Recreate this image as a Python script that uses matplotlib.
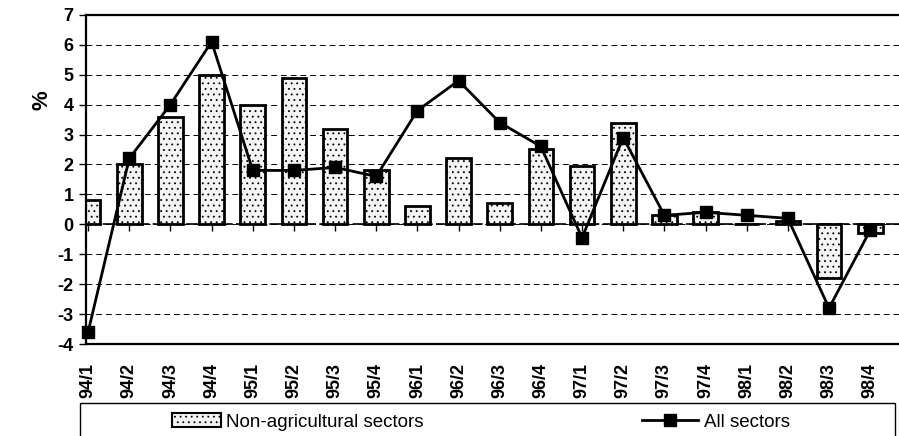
import numpy as np
import matplotlib
matplotlib.use("Agg")
import matplotlib.pyplot as plt
from matplotlib.patches import Rectangle
from matplotlib.lines import Line2D

# quarters 94/1 .. 98/4
quarters = ["94/1", "94/2", "94/3", "94/4", "95/1", "95/2", "95/3", "95/4",
            "96/1", "96/2", "96/3", "96/4", "97/1", "97/2", "97/3", "97/4",
            "98/1", "98/2", "98/3", "98/4"]
non_agri = [0.8, 2.0, 3.6, 5.0, 4.0, 4.9, 3.2, 1.8,
            0.6, 2.2, 0.7, 2.5, 1.95, 3.4, 0.3, 0.4,
            0.0, 0.1, -1.8, -0.3]
all_sectors = [-3.6, 2.2, 4.0, 6.1, 1.8, 1.8, 1.9, 1.6,
               3.8, 4.8, 3.4, 2.6, -0.45, 2.9, 0.3, 0.4,
               0.3, 0.2, -2.8, -0.2]

plt.rcParams["font.family"] = ["Liberation Sans", "DejaVu Sans"]
plt.rcParams["axes.unicode_minus"] = False
plt.rcParams["hatch.linewidth"] = 0.6
plt.rcParams["hatch.color"] = "#777777"

fig = plt.figure(figsize=(8.99, 4.36), dpi=100)
ax = fig.add_axes([0.0957, 0.211, 0.9043, 0.755])

x = np.arange(len(quarters))
ax.bar(x, non_agri, width=0.6, facecolor="#f4f4f4", edgecolor="black",
       linewidth=2, hatch="...", zorder=2)
ax.plot(x, all_sectors, color="black", linewidth=2, marker="s",
        markersize=9, markerfacecolor="black", markeredgecolor="black",
        zorder=3, clip_on=False)

ax.set_xlim(-0.05, 19.7)
ax.set_ylim(-4, 7)
ax.set_yticks(range(-4, 8))
ax.yaxis.grid(True, linestyle=(0, (6, 4)), color="black", linewidth=0.7, zorder=0)
ax.axhline(0, color="black", linewidth=1.2, linestyle=(0, (8, 2)), zorder=1)

ax.set_xticks(x)
ax.set_xticklabels(quarters, rotation=90, fontsize=13, fontweight="bold")
ax.tick_params(axis="x", length=0, pad=14)
ax.tick_params(axis="y", labelsize=13, length=5, width=1, pad=4)
for lab in ax.get_yticklabels():
    lab.set_fontweight("bold")
ax.spines["right"].set_visible(False)
for s in ["left", "bottom", "top"]:
    ax.spines[s].set_linewidth(1.6)

# category ticks sit on the zero line
sec = ax.secondary_xaxis(4 / 11)
sec.set_xticks(x)
sec.set_xticklabels([])
sec.tick_params(length=5, width=1)
sec.spines["bottom"].set_visible(False)

fig.text(42 / 899, 1 - 100 / 436, "%", rotation=90, fontsize=16,
         fontweight="bold", ha="center", va="center")

# legend box at the bottom
fig.patches.append(Rectangle((80 / 899, -0.05), 815 / 899, 1 - 403 / 436 + 0.05,
                             transform=fig.transFigure, fill=False,
                             edgecolor="black", linewidth=1))
h_bar = Rectangle((0, 0), 1, 1, facecolor="#f4f4f4", edgecolor="black",
                  linewidth=1.5, hatch="...")
h_line = Line2D([0], [0], color="black", linewidth=2, marker="s",
                markersize=8, markerfacecolor="black")
fig.legend([h_bar], ["Non-agricultural sectors"], loc="center left",
           bbox_to_anchor=(172 / 899, 1 - 422 / 436), frameon=False,
           fontsize=13.5, handlelength=2.6, handletextpad=0.3,
           borderpad=0, borderaxespad=0)
fig.legend([h_line], ["All sectors"], loc="center left",
           bbox_to_anchor=(642 / 899, 1 - 422 / 436), frameon=False,
           fontsize=13.5, handlelength=3.0, handletextpad=0.3,
           borderpad=0, borderaxespad=0)

fig.savefig("out.png", dpi=100)
